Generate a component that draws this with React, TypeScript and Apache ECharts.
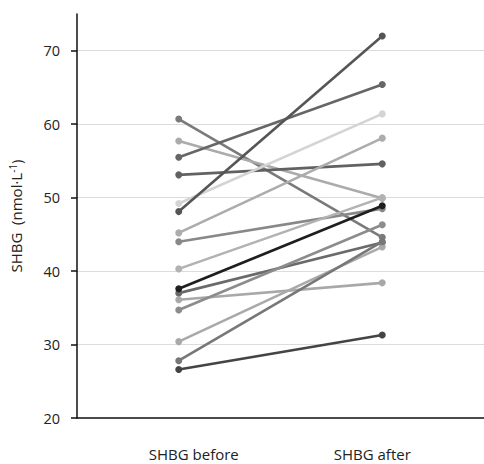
import React, { useEffect, useRef } from "react";
import * as echarts from "echarts";

const categories = ["SHBG before", "SHBG after"];
const beforeValues = [60.7, 57.7, 55.5, 53.1, 49.2, 48.1, 45.2, 44.0, 40.3, 37.0, 36.1, 34.7, 30.4, 27.8, 26.6, 37.6];
const afterValues = [44.6, 49.9, 65.4, 54.6, 61.4, 72.0, 58.1, 48.5, 50.0, 43.9, 38.4, 46.3, 43.3, 44.0, 31.3, 48.9];
const lineColors = ["#7a7a7a", "#ababab", "#666666", "#616161", "#d4d4d4", "#555555", "#acacac", "#888888", "#b2b2b2", "#6a6a6a", "#a8a8a8", "#8c8c8c", "#a9a9a9", "#777777", "#444444", "#1e1e1e"];
const yTicks = [20, 30, 40, 50, 60, 70];

export default function App() {
  const ref = useRef<HTMLDivElement>(null);
  useEffect(() => {
    if (!ref.current) return;
    const chart = echarts.init(ref.current, null, { renderer: "svg" });
    const font = "'Open Sans', sans-serif";
    const series = beforeValues.map((b, i) => ({
      type: "line",
      data: [b, afterValues[i]],
      symbol: "circle",
      symbolSize: 7,
      showSymbol: true,
      lineStyle: { color: lineColors[i], width: 2.6 },
      itemStyle: { color: lineColors[i] },
      emphasis: { disabled: true },
      z: 2 + i,
    }));
    chart.setOption({
      animation: false,
      grid: { left: 73, right: 0, top: 14, bottom: 46, containLabel: false },
      xAxis: {
        type: "category",
        data: categories,
        boundaryGap: true,
        axisLine: { lineStyle: { color: "#111", width: 1.5 } },
        axisTick: { show: false },
        splitLine: { show: false },
        axisLabel: {
          margin: 28,
          fontFamily: font,
          fontSize: 15,
          color: "#222",
          formatter: (v: string, idx: number) => (idx === 0 ? `{a|${v}}` : `{b|${v}}`),
          rich: {
            a: { padding: [0, 0, 0, 30], fontFamily: font, fontSize: 15, color: "#222" },
            b: { padding: [0, 20, 0, 0], fontFamily: font, fontSize: 15, color: "#222" },
          },
        },
      },
      yAxis: {
        type: "value",
        min: yTicks[0],
        max: 75,
        interval: 10,
        name: "{t|SHBG\u00a0\u00a0(nmol·L}{s|-1}{t|)}",
        nameLocation: "middle",
        nameGap: 53,
        nameTextStyle: {
          rich: {
            t: { fontFamily: font, fontSize: 15, color: "#222" },
            s: { fontFamily: font, fontSize: 10, color: "#222", verticalAlign: "top", padding: [0, 0, 6, 0] },
          },
        },
        axisLine: { show: true, lineStyle: { color: "#111", width: 1.5 } },
        axisTick: { show: true, length: 6, lineStyle: { color: "#111", width: 1.5 } },
        axisLabel: {
          margin: 17,
          fontFamily: font,
          fontSize: 14.5,
          color: "#222",
          showMaxLabel: false,
          formatter: (v: number) => (yTicks.includes(v) ? String(v) : ""),
        },
        splitLine: { show: true, showMaxLine: false, showMinLine: false, lineStyle: { color: "#dcdcdc", width: 1 } },
      },
      series,
    });
    return () => chart.dispose();
  }, []);
  return <div ref={ref} style={{ position: "absolute", left: 0, top: 0, width: 484, height: 464 }} />;
}
